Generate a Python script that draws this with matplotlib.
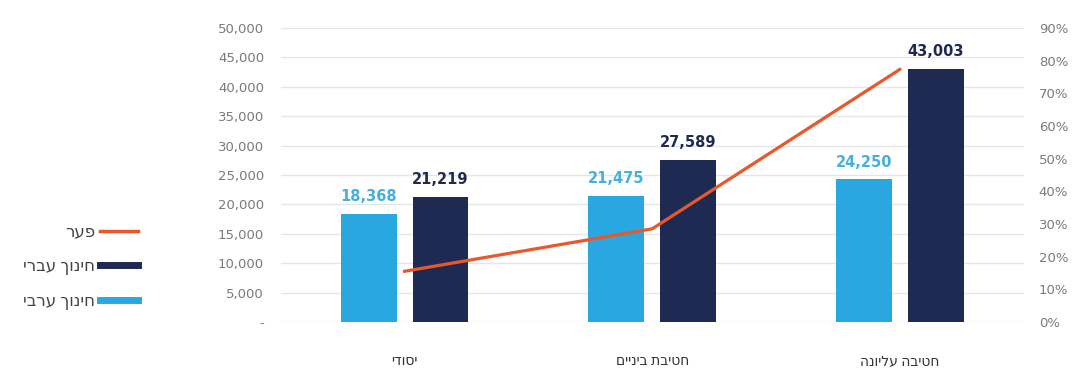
import matplotlib
matplotlib.use('Agg')
import matplotlib.pyplot as plt
from matplotlib.lines import Line2D
from matplotlib.ticker import FuncFormatter
import numpy as np

# Hebrew text is drawn through a family list (Lato has no Hebrew, DejaVu fills in)
plt.rcParams['font.family'] = ['Lato', 'DejaVu Sans']
num_font = ['DejaVu Sans']

# matplotlib has no bidi support, so Hebrew strings are reversed for display
def heb(s):
    return s[::-1]

categories = ['יסודי', 'חטיבת ביניים', 'חטיבה עליונה']
arab_edu = [18368, 21475, 24250]
hebrew_edu = [21219, 27589, 43003]
gap_pct = [15.5, 28.5, 77.3]

legend_gap = 'פער'
legend_hebrew = 'חינוך עברי'
legend_arab = 'חינוך ערבי'

light = '#29a7e1'
dark = '#1f2a52'
orange = '#e9572b'
grid_c = '#e6e6e6'
tick_c = '#7a7a7a'

fig = plt.figure(figsize=(10.78, 3.73), dpi=100)
ax = fig.add_axes([0.2605, 0.137, 0.689, 0.788])
ax2 = ax.twinx()

x = np.arange(len(categories))
w = 0.226
off = 0.145

ax.bar(x - off, arab_edu, w, color=light, zorder=3)
ax.bar(x + off, hebrew_edu, w, color=dark, zorder=3)

for xi, v in zip(x, arab_edu):
    ax.annotate(f'{v:,}', (xi - off, v), xytext=(0, 7), textcoords='offset points',
                ha='center', va='bottom', color='#45b0e0', fontsize=10.5,
                fontweight='bold', family=num_font)
for xi, v in zip(x, hebrew_edu):
    ax.annotate(f'{v:,}', (xi + off, v), xytext=(0, 7), textcoords='offset points',
                ha='center', va='bottom', color=dark, fontsize=10.5,
                fontweight='bold', family=num_font)

ax2.plot(x, gap_pct, color=orange, lw=2.3, zorder=5)

ax.set_xlim(-0.5, 2.5)
ax.set_ylim(0, 50000)
ax.set_yticks(range(0, 50001, 5000))
ax.yaxis.set_major_formatter(FuncFormatter(lambda v, p: '-' if v == 0 else f'{int(v):,}'))
ax2.set_ylim(0, 90)
ax2.set_yticks(range(0, 91, 10))
ax2.yaxis.set_major_formatter(FuncFormatter(lambda v, p: f'{int(v)}%'))

ax.set_xticks(x)
ax.set_xticklabels([heb(c) for c in categories], fontsize=10, color='#333333')
ax.tick_params(axis='x', length=0, pad=24)
ax.tick_params(axis='y', length=0, labelsize=9.5, labelcolor=tick_c, pad=12)
ax2.tick_params(axis='y', length=0, labelsize=9.5, labelcolor=tick_c, pad=11)
for lab in ax.get_yticklabels() + ax2.get_yticklabels():
    lab.set_family(num_font)

ax.grid(axis='y', color=grid_c, lw=1, zorder=0)
ax.set_axisbelow(True)
for a in (ax, ax2):
    for s in a.spines.values():
        s.set_visible(False)
ax.set_zorder(ax2.get_zorder() - 1)
ax2.patch.set_visible(False)
ax.patch.set_visible(False)

handles = [
    Line2D([], [], color=orange, lw=2.5),
    Line2D([], [], color=dark, lw=5),
    Line2D([], [], color=light, lw=5),
]
labels = [heb(legend_gap), heb(legend_hebrew), heb(legend_arab)]
fig.legend(handles, labels, loc='center right', bbox_to_anchor=(145 / 1078, 0.285),
           borderaxespad=0, frameon=False, markerfirst=False, fontsize=12,
           labelcolor='#444444', handlelength=2.3, labelspacing=1.1, handletextpad=0.3)

fig.savefig('out.png', dpi=100)
